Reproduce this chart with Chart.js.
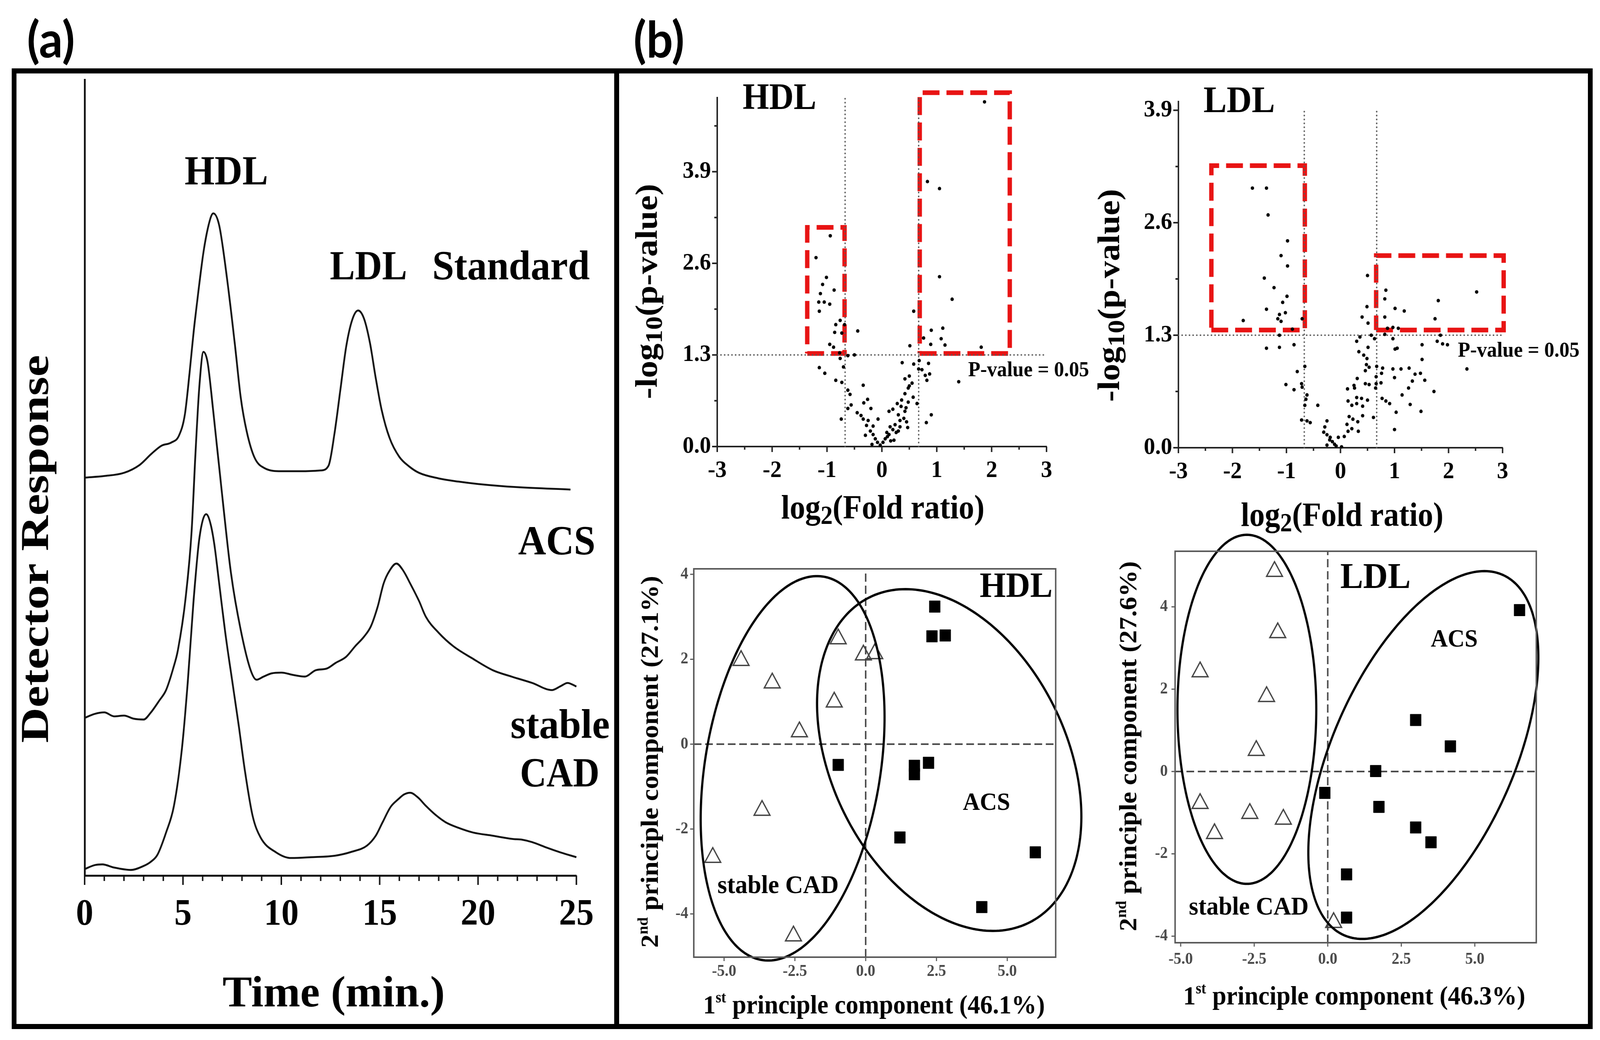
<!DOCTYPE html>
<html>
<head>
<meta charset="utf-8">
<script src="https://cdn.jsdelivr.net/npm/chart.js@4.4.0/dist/chart.umd.min.js"></script>
<style>
	html, body { margin: 0; padding: 0; background: #fff; overflow: hidden; }
	#wrap { position: relative; width: 4368px; height: 2662px; overflow: hidden; background: #fff; }
	#stage { position: absolute; left: 0; top: 0; width: 4368px; height: 2662px; transform-origin: 0 0; background: #fff; }
	.frame { position: absolute; border: 13px solid #000; box-sizing: border-box; }
	.tag { position: absolute; transform: translate(-50%, -50%); font-family: Lato, "Open Sans", sans-serif; font-weight: 700; font-size: 128px; line-height: 1; }
	canvas { position: absolute; }
</style>
</head>
<body>
<div id="wrap">
<div id="stage">
	<div class="frame" style="left:32px;top:175px;width:1658px;height:2459px"></div>
	<div class="frame" style="left:1677px;top:175px;width:2671px;height:2459px"></div>
	<div class="tag" style="left:139px;top:98px">(a)</div>
	<div class="tag" style="left:1799px;top:98px">(b)</div>
</div>
</div>
<script>
/* ===== panel (a): chromatograms (time in min, response in % of axis height) ===== */
const timeStd = [0, 1.0, 2.0, 2.8, 3.4, 3.9, 4.4, 4.8, 5.1, 5.34, 5.55, 5.74, 6.04, 6.34, 6.54, 6.84, 7.24, 7.64, 7.94, 8.24, 8.64, 9.14, 10, 11, 12, 12.4, 12.7, 13.0, 13.3, 13.6, 13.9, 14.2, 14.5, 14.8, 15.1, 15.5, 16.0, 16.5, 17.0, 18.0, 19.0, 20.0, 22.0, 24.7];
const respStd = [50.0, 50.2, 50.6, 51.6, 53.0, 54.0, 54.4, 55.3, 58.0, 63.3, 68.5, 72.5, 78.3, 82.1, 83.2, 81.7, 75.0, 66.7, 60.0, 55.8, 52.5, 51.2, 50.8, 50.8, 50.9, 51.5, 55.5, 61.0, 66.5, 69.8, 71.0, 70.0, 67.0, 62.5, 58.5, 55.0, 52.6, 51.4, 50.6, 49.9, 49.5, 49.2, 48.8, 48.5];

const timeAcs = [0, 0.5, 1.0, 1.5, 2.0, 2.5, 3.0, 3.34, 3.8, 4.14, 4.5, 4.74, 5.14, 5.44, 5.64, 5.84, 6.04, 6.25, 6.54, 6.94, 7.44, 7.94, 8.44, 8.74, 9.1, 9.5, 10.0, 10.6, 11.2, 11.75, 12.3, 12.75, 13.3, 13.75, 14.2, 14.55, 14.9, 15.2, 15.5, 15.85, 16.2, 16.55, 17.0, 17.35, 18.0, 18.75, 19.7, 20.75, 21.7, 22.75, 23.75, 24.2, 24.55, 25];
const respAcs = [19.8, 20.3, 20.5, 20.0, 20.1, 19.7, 19.6, 20.4, 22.0, 23.3, 26.0, 28.3, 35.0, 43.3, 53.3, 61.7, 65.8, 64.5, 58.3, 49.0, 38.0, 30.8, 25.8, 24.6, 25.0, 25.4, 25.5, 25.2, 25.0, 25.8, 26.0, 26.7, 27.5, 28.8, 30.0, 31.3, 33.8, 36.7, 38.3, 39.2, 38.3, 36.7, 34.5, 32.5, 30.5, 28.8, 27.3, 25.8, 25.0, 24.2, 23.3, 23.8, 24.2, 23.75];

const timeCad = [0, 0.5, 0.9, 1.5, 2.35, 3.0, 3.35, 3.7, 4.14, 4.54, 4.94, 5.24, 5.54, 5.84, 6.18, 6.4, 6.6, 6.85, 7.15, 7.5, 7.84, 8.14, 8.54, 8.94, 9.74, 10.5, 11.5, 12.75, 13.6, 14.35, 14.8, 15.15, 15.55, 15.95, 16.25, 16.55, 16.95, 17.35, 17.85, 18.35, 19.0, 19.75, 20.75, 21.75, 22.25, 22.75, 23.5, 24.2, 25];
const respCad = [0.8, 1.3, 1.4, 1.0, 0.7, 1.2, 1.7, 2.6, 5.4, 8.75, 15.8, 24.2, 34.6, 42.5, 45.4, 44.2, 41.5, 36.5, 30.5, 24.5, 18.75, 13.3, 7.5, 4.8, 2.9, 2.2, 2.3, 2.5, 3.0, 3.75, 5.0, 6.7, 8.6, 9.6, 10.2, 10.4, 9.8, 8.75, 7.6, 6.7, 6.0, 5.4, 5.0, 4.6, 4.5, 4.2, 3.5, 2.9, 2.3];

const timeTicks = [0, 5, 10, 15, 20, 25];
const timeMinor = [1, 2, 3, 4, 6, 7, 8, 9, 11, 12, 13, 14, 16, 17, 18, 19, 21, 22, 23, 24];

/* ===== panel (b) top: volcano plots [log2 fold ratio, -log10 p] ===== */
const hdlPoints = [
	[1.87, 4.89], [0.83, 3.76], [1.05, 3.66], [1.05, 2.41], [1.28, 2.09], [0.58, 1.92], [0.90, 1.65], [1.11, 1.68],
	[0.76, 1.54], [1.08, 1.53], [0.89, 1.45], [1.15, 1.44], [1.81, 1.41], [0.51, 1.43],
	[-0.94, 2.99], [-1.20, 2.68], [-1.01, 2.40], [-1.08, 2.30], [-0.87, 2.22], [-1.12, 2.17], [-1.15, 2.05], [-1.05, 2.05],
	[-0.95, 2.02], [-1.14, 1.92], [-0.76, 1.79], [-0.84, 1.73], [-0.68, 1.73], [-0.86, 1.62], [-0.73, 1.61], [-0.44, 1.64],
	[-0.95, 1.45], [-0.88, 1.41], [-0.77, 1.33], [-0.76, 1.25], [-0.62, 1.29], [-0.50, 1.30],
	[-1.14, 1.12], [-1.04, 1.04], [-0.84, 0.94], [-0.73, 0.91], [-0.70, 1.13], [-0.62, 0.80], [-0.58, 0.74], [-0.62, 0.54],
	[-0.56, 0.59], [-0.74, 0.39], [-0.34, 0.87], [-0.26, 0.67], [-0.33, 0.62], [-0.20, 0.54], [-0.45, 0.48], [-0.38, 0.44],
	[-0.34, 0.39], [-0.25, 0.37], [-0.07, 0.39], [-0.16, 0.29], [-0.30, 0.16], [-0.16, 0.17], [-0.12, 0.11], [-0.18, 0.03],
	[-0.03, 0.02], [-0.08, 0.06], [-0.21, 0.22], [-0.28, 0.30],
	[0.02, 0.06], [0.06, 0.11], [0.13, 0.17], [0.22, 0.09], [0.15, 0.28], [0.24, 0.31], [0.33, 0.37], [0.40, 0.40],
	[0.20, 0.24], [0.13, 0.50], [0.20, 0.53], [0.28, 0.61], [0.35, 0.57], [0.42, 0.50], [0.47, 0.27], [0.45, 0.35],
	[0.48, 0.63], [0.42, 0.75], [0.48, 0.83], [0.42, 0.96], [0.50, 1.00], [0.55, 0.90], [0.57, 0.70], [0.64, 0.61],
	[0.50, 0.86], [0.37, 1.19], [0.58, 1.17], [0.67, 1.10], [0.85, 1.18], [0.87, 1.03], [0.82, 0.94], [0.90, 0.45],
	[0.81, 0.34], [0.73, 1.09], [0.79, 1.01], [1.40, 0.92], [0.68, 1.22], [0.10, 0.14], [0.30, 0.45], [0.09, 0.20],
	[0.26, 0.20], [0.33, 0.28], [0.36, 0.66], [0.44, 0.55], [0.16, 0.08], [0.30, 0.22]
];
const ldlPoints = [
	[-1.63, 3.00], [-1.37, 3.00], [-1.34, 2.69], [-0.98, 2.39], [-1.10, 2.22], [-0.98, 2.10], [-1.41, 1.96], [-1.23, 1.85],
	[-0.99, 1.75], [-1.07, 1.68], [-1.37, 1.60], [-1.02, 1.56], [-1.13, 1.54], [-1.16, 1.49], [-1.80, 1.47], [-0.71, 1.49],
	[-1.10, 1.46], [-0.89, 1.37], [-1.13, 1.30],
	[-1.37, 1.15], [-1.13, 1.16], [-0.86, 1.19], [-0.80, 0.88], [-1.01, 0.73], [-0.86, 0.67], [-0.66, 0.94], [-0.72, 0.74],
	[-0.71, 0.70], [-0.62, 0.61], [-0.64, 0.56], [-0.66, 0.49], [-0.42, 0.49], [-0.72, 0.32], [-0.56, 0.29], [-0.62, 0.31],
	[-0.25, 0.31], [-0.29, 0.24], [-0.31, 0.18], [-0.25, 0.15], [-0.19, 0.12], [-0.15, 0.07], [-0.11, 0.04], [-0.25, 0.03],
	[-0.04, 0.12], [0.02, 0.01], [-0.20, 0.09], [-0.08, 0.02],
	[0.07, 0.13], [0.14, 0.19], [0.12, 0.27], [0.16, 0.36], [0.23, 0.33], [0.32, 0.30], [0.33, 0.19], [0.21, 0.22],
	[0.14, 0.54], [0.21, 0.49], [0.30, 0.51], [0.39, 0.57], [0.41, 0.48], [0.41, 0.37], [0.50, 0.55], [0.30, 0.58],
	[0.13, 0.68], [0.26, 0.69], [0.31, 0.80], [0.25, 0.72], [0.46, 0.74], [0.53, 0.73], [0.46, 0.89], [0.53, 0.93],
	[0.48, 0.96], [0.34, 1.11], [0.43, 1.07], [0.49, 1.03], [0.51, 1.16], [0.30, 1.23], [0.36, 1.28], [0.57, 1.30],
	[0.51, 1.44], [0.63, 1.26], [0.67, 0.94], [0.78, 0.92], [0.76, 0.86], [0.66, 0.82], [0.66, 0.74], [0.75, 0.75],
	[0.65, 0.69], [0.77, 0.57], [0.84, 0.54], [0.91, 0.51], [0.61, 0.35], [0.97, 1.26], [1.01, 1.14], [1.05, 1.15],
	[0.97, 0.91], [1.00, 0.81], [1.12, 0.91], [1.27, 0.92], [1.38, 0.85], [1.48, 0.86], [1.33, 0.77], [1.56, 0.78],
	[1.26, 0.69], [1.14, 0.61], [1.29, 0.50], [1.49, 0.42], [1.03, 0.41], [1.00, 0.21], [1.73, 0.65], [1.51, 1.19],
	[1.51, 1.02], [1.79, 1.23], [1.89, 1.20], [1.98, 1.19], [0.87, 1.38], [1.07, 1.38], [1.85, 1.30], [0.82, 1.31],
	[0.40, 1.51], [0.49, 1.63], [0.50, 1.99], [0.84, 1.82], [0.82, 1.72], [1.01, 1.61], [1.18, 1.58], [0.82, 1.51],
	[0.97, 1.39], [1.75, 1.49], [1.81, 1.70], [2.52, 1.80], [2.34, 0.91]
];
const foldTicks = [-3, -2, -1, 0, 1, 2, 3];
const foldMinor = [-2.5, -1.5, -0.5, 0.5, 1.5, 2.5];
const logPTicks = [0, 1.3, 2.6, 3.9];
const hdlLogPMinor = [0.65, 1.95, 3.25, 4.55];
const ldlLogPMinor = [0.65, 1.95, 3.25];
const foldCut = 0.67;
const pCut = 1.3;
// highlighted regions [x1, x2, y1, y2]
const hdlBoxes = [[-1.36, -0.68, 1.32, 3.11], [0.69, 2.33, 1.32, 5.02]];
const ldlBoxes = [[-2.39, -0.66, 1.36, 3.26], [0.66, 3.02, 1.36, 2.22]];

/* ===== panel (b) bottom: PCA scores ===== */
const hdlPcaCad = [[-4.40, 1.97], [-3.30, 1.44], [-0.97, 2.48], [-0.08, 2.10], [0.32, 2.13], [-1.11, 0.99], [-2.34, 0.29], [-3.66, -1.56], [-5.40, -2.67], [-2.55, -4.52]];
const hdlPcaAcs = [[2.44, 3.24], [2.34, 2.54], [2.81, 2.56], [-0.97, -0.49], [1.72, -0.51], [1.72, -0.71], [2.22, -0.44], [1.21, -2.20], [5.99, -2.55], [4.10, -3.84]];
const ldlPcaCad = [[-1.81, 4.86], [-1.70, 3.37], [-4.34, 2.42], [-2.08, 1.82], [-2.43, 0.51], [-4.34, -0.78], [-3.85, -1.51], [-2.65, -1.02], [-1.51, -1.16], [0.20, -3.67]];
const ldlPcaAcs = [[6.52, 3.92], [2.99, 1.25], [4.17, 0.61], [1.63, 0.01], [-0.10, -0.52], [1.74, -0.86], [2.99, -1.36], [3.51, -1.72], [0.64, -2.50], [0.64, -3.55]];
const pcaXTicks = [-5, -2.5, 0, 2.5, 5];
const pcaYTicks = [-4, -2, 0, 2, 4];
// group ellipses: centre, two conjugate semi-axes (data units)
const hdlEllipses = [{c: [-2.58, -0.57], u: [1.14, 4.51], v: [3.04, -0.41]}, {c: [2.95, -0.375], u: [3.11, -3.72], v: [-3.48, -1.54]}];
const ldlEllipses = [{c: [-2.75, 1.51], u: [0, 4.24], v: [2.36, 0]}, {c: [3.25, 0.40], u: [2.72, 4.37], v: [2.81, -0.93]}];

/* ================================================================ */
const SERIF = "'Liberation Serif', 'Times New Roman', serif";
const RED = "rgb(232, 20, 20)";
const stage = document.getElementById("stage");

// the browser may not give the full 4368 x 2662 viewport: stretch the figure to fill what it gives
(function () {
	let sx = window.innerWidth / 4368, sy = window.innerHeight / 2662;
	if (!(sx > 0) || Math.abs(sx - 1) < 0.002) sx = 1;
	if (!(sy > 0) || Math.abs(sy - 1) < 0.002) sy = 1;
	const wrap = document.getElementById("wrap");
	wrap.style.width = (4368 * sx) + "px";
	wrap.style.height = (2662 * sy) + "px";
	if (sx !== 1 || sy !== 1) stage.style.transform = "scale(" + sx + "," + sy + ")";
})();

const toXY = (xs, ys) => xs.map((x, i) => ({x: x, y: ys[i]}));
const pairs = (arr) => arr.map(p => ({x: p[0], y: p[1]}));

function addCanvas(box) {
	const c = document.createElement("canvas");
	Object.assign(c.style, {left: box.x + "px", top: box.y + "px", width: box.w + "px", height: box.h + "px"});
	stage.appendChild(c);
	return c;
}

function axis(o) {
	return {
		type: "linear",
		position: o.position,
		min: o.min,
		max: o.max,
		grid: {display: false, drawTicks: false},
		border: {display: !!o.border, color: o.border ? o.border[0] : "#000", width: o.border ? o.border[1] : 0},
		ticks: {
			display: !!o.ticks,
			padding: o.pad || 0,
			color: o.color || "#000",
			autoSkip: false,
			maxRotation: 0,
			font: {family: SERIF, weight: "bold", size: o.fontSize || 40, lineHeight: 1},
			callback: o.fmt || ((v) => String(v))
		},
		afterBuildTicks: (s) => { s.ticks = (o.ticks || []).map(v => ({value: v})); },
		afterFit: (s) => { if (o.position === "left") s.width = o.size; else s.height = o.size; }
	};
}

function textLayer(box, items) {
	return {
		id: "textLayer",
		afterDraw(chart) {
			const ctx = chart.ctx;
			items.forEach(it => {
				const parts = Array.isArray(it.text) ? it.text : [{t: it.text}];
				const fontFor = p => "bold " + Math.round(it.size * (p.sub ? 0.78 : p.sup ? 0.58 : 1)) + "px " + SERIF;
				ctx.save();
				ctx.translate(it.x - box.x, it.y - box.y);
				if (it.rot) ctx.rotate(it.rot * Math.PI / 180);
				let total = 0;
				const widths = parts.map(p => {
					ctx.font = fontFor(p);
					const w = ctx.measureText(p.t).width;
					total += w;
					return w;
				});
				if (it.w) ctx.scale(it.w / total, 1);
				ctx.fillStyle = it.color || "#000";
				ctx.textBaseline = "middle";
				ctx.textAlign = "left";
				let cx = -total / 2;
				parts.forEach((p, i) => {
					ctx.font = fontFor(p);
					const dy = p.sub ? it.size * 0.22 : (p.sup ? -it.size * 0.3 : 0);
					ctx.fillText(p.t, cx, dy);
					cx += widths[i];
				});
				ctx.restore();
			});
		}
	};
}

// outward tick marks: spec.x / spec.y = [[values, length], ...]
function tickMarks(spec) {
	return {
		id: "tickMarks",
		afterDraw(chart) {
			const {ctx, chartArea: a, scales: {x, y}} = chart;
			ctx.save();
			ctx.strokeStyle = spec.color;
			ctx.lineWidth = spec.width;
			ctx.beginPath();
			(spec.x || []).forEach(([vals, len]) => vals.forEach(v => {
				const px = x.getPixelForValue(v);
				ctx.moveTo(px, a.bottom);
				ctx.lineTo(px, a.bottom + len);
			}));
			(spec.y || []).forEach(([vals, len]) => vals.forEach(v => {
				const py = y.getPixelForValue(v);
				ctx.moveTo(a.left, py);
				ctx.lineTo(a.left - len, py);
			}));
			ctx.stroke();
			ctx.restore();
		}
	};
}

const frame = {
	id: "frame",
	afterDraw(chart) {
		const {ctx, chartArea: a} = chart;
		ctx.save();
		ctx.strokeStyle = "#5a5a5a";
		ctx.lineWidth = 4;
		ctx.strokeRect(a.left, a.top, a.right - a.left, a.bottom - a.top);
		ctx.restore();
	}
};

function ellipseLayer(list) {
	return {
		id: "ellipses",
		afterDatasetsDraw(chart) {
			const {ctx, scales: {x, y}} = chart;
			ctx.save();
			ctx.strokeStyle = "#000";
			ctx.lineWidth = 6;
			list.forEach(e => {
				const cx = x.getPixelForValue(e.c[0]), cy = y.getPixelForValue(e.c[1]);
				const ux = x.getPixelForValue(e.c[0] + e.u[0]) - cx, uy = y.getPixelForValue(e.c[1] + e.u[1]) - cy;
				const vx = x.getPixelForValue(e.c[0] + e.v[0]) - cx, vy = y.getPixelForValue(e.c[1] + e.v[1]) - cy;
				ctx.beginPath();
				for (let i = 0; i <= 240; i++) {
					const t = i / 240 * Math.PI * 2;
					const px = cx + Math.cos(t) * ux + Math.sin(t) * vx;
					const py = cy + Math.cos(t) * uy + Math.sin(t) * vy;
					if (i === 0) ctx.moveTo(px, py); else ctx.lineTo(px, py);
				}
				ctx.closePath();
				ctx.stroke();
			});
			ctx.restore();
		}
	};
}

function makeChart(box, area, datasets, xAxis, yAxis, plugins) {
	xAxis.size = box.y + box.h - area.bottom;
	yAxis.size = area.left - box.x;
	xAxis.position = "bottom";
	yAxis.position = "left";
	return new Chart(addCanvas(box), {
		type: "scatter",
		data: {datasets: datasets},
		options: {
			responsive: false,
			maintainAspectRatio: false,
			animation: false,
			events: [],
			layout: {padding: {left: 0, bottom: 0, top: area.top - box.y, right: box.x + box.w - area.right}},
			plugins: {legend: {display: false}, tooltip: {enabled: false}},
			scales: {x: axis(xAxis), y: axis(yAxis)}
		},
		plugins: plugins
	});
}

const line = (data, color, width, dash, cap) => ({
	data: data, showLine: true, pointRadius: 0, borderColor: color, borderWidth: width,
	borderDash: dash || [], borderCapStyle: cap || "butt", borderJoinStyle: "miter", clip: false
});
const rect = (b) => [{x: b[0], y: b[2]}, {x: b[1], y: b[2]}, {x: b[1], y: b[3]}, {x: b[0], y: b[3]}, {x: b[0], y: b[2]}];
const dots = (data) => ({data: data, pointRadius: 4.6, pointBackgroundColor: "#000", pointBorderWidth: 0, clip: false});

/* ---------- (a) chromatograms ---------- */
(function () {
	const box = {x: 45, y: 190, w: 1630, h: 2425};
	const area = {left: 231, top: 204, right: 1585, bottom: 2241};
	const trace = (xs, ys) => Object.assign(line(toXY(xs, ys), "#111", 4.8), {cubicInterpolationMode: "monotone"});
	makeChart(box, area,
		[trace(timeStd, respStd), trace(timeAcs, respAcs), trace(timeCad, respCad)],
		{min: 0, max: 25, ticks: timeTicks, fontSize: 95, pad: 54, border: ["#111", 5]},
		{min: 0, max: 100, border: ["#111", 5]},
		[
			tickMarks({color: "#111", width: 4, x: [[timeTicks, 24], [timeMinor, 14]]}),
			textLayer(box, [
				{text: "HDL", x: 618, y: 445, size: 105, w: 228},
				{text: "LDL", x: 1006, y: 688, size: 105, w: 211},
				{text: "Standard", x: 1395, y: 688, size: 105, w: 430},
				{text: "ACS", x: 1520, y: 1392, size: 105, w: 211},
				{text: "stable", x: 1529, y: 1862, size: 105, w: 271},
				{text: "CAD", x: 1528, y: 1986, size: 105, w: 217},
				{text: "Time (min.)", x: 911, y: 2547, size: 112, w: 607},
				{text: "Detector Response", x: 103, y: 1405, size: 108, w: 993, rot: -90}
			])
		]);
})();

/* ---------- (b) volcano plots ---------- */
function volcano(box, area, points, boxes, yMax, vTop, minorY, texts) {
	const dotted = (d) => line(d, "#5a5a5a", 4, [0.5, 9.5], "round");
	makeChart(box, area,
		[
			dots(pairs(points)),
			dotted([{x: -3, y: pCut}, {x: 3, y: pCut}]),
			dotted([{x: -foldCut, y: 0}, {x: -foldCut, y: vTop}]),
			dotted([{x: foldCut, y: 0}, {x: foldCut, y: vTop}]),
			line(rect(boxes[0]), RED, 12, [46, 19]),
			line(rect(boxes[1]), RED, 12, [46, 19])
		],
		{min: -3, max: 3, ticks: foldTicks, fontSize: 62, pad: 31, border: ["#222", 4]},
		{min: 0, max: yMax, ticks: logPTicks, fontSize: 62, pad: 17, border: ["#222", 4], fmt: (v) => v.toFixed(1)},
		[
			tickMarks({color: "#222", width: 4, x: [[foldTicks, 14], [foldMinor, 8]], y: [[logPTicks, 14], [minorY, 8]]}),
			textLayer(box, texts)
		]);
}

volcano({x: 1700, y: 200, w: 1290, h: 1190}, {left: 1958, top: 250, right: 2857, bottom: 1143},
	hdlPoints, hdlBoxes, 4.95, 4.95, hdlLogPMinor, [
		{text: "HDL", x: 2128, y: 254, size: 96, w: 201},
		{text: "P-value = 0.05", x: 2808, y: 949, size: 55, w: 330},
		{text: [{t: "-log"}, {t: "10", sub: true}, {t: "(p-value)"}], x: 1771, y: 746, size: 84, w: 551, rot: -90},
		{text: [{t: "log"}, {t: "2", sub: true}, {t: "(Fold ratio)"}], x: 2410, y: 1305, size: 86, w: 555}
	]);

volcano({x: 2990, y: 200, w: 1340, h: 1190}, {left: 3217, top: 260, right: 4102, bottom: 1146},
	ldlPoints, ldlBoxes, 4.0, 3.9, ldlLogPMinor, [
		{text: "LDL", x: 3383, y: 262, size: 96, w: 195},
		{text: "P-value = 0.05", x: 4146, y: 899, size: 55, w: 332},
		{text: [{t: "-log"}, {t: "10", sub: true}, {t: "(p-value)"}], x: 3033, y: 756, size: 84, w: 545, rot: -90},
		{text: [{t: "log"}, {t: "2", sub: true}, {t: "(Fold ratio)"}], x: 3664, y: 1324, size: 86, w: 553}
	]);

/* ---------- (b) PCA score plots ---------- */
function pca(box, area, xr, yr, cad, acs, ellipses, xPad, yPad, texts) {
	const dashed = (d) => line(d, "#444", 4, [21, 10]);
	makeChart(box, area,
		[
			{data: pairs(acs), pointStyle: "rect", pointRadius: 21, pointBackgroundColor: "#000", pointBorderColor: "#000", pointBorderWidth: 1, clip: false},
			{data: pairs(cad), pointStyle: "triangle", pointRadius: 25, pointBackgroundColor: "rgba(255,255,255,0)", pointBorderColor: "#444", pointBorderWidth: 3.5, clip: false},
			dashed([{x: 0, y: yr[0]}, {x: 0, y: yr[1]}]),
			dashed([{x: xr[0], y: 0}, {x: xr[1], y: 0}])
		],
		{min: xr[0], max: xr[1], ticks: pcaXTicks, fontSize: 42, pad: xPad, color: "#4a4a4a", fmt: (v) => v.toFixed(1)},
		{min: yr[0], max: yr[1], ticks: pcaYTicks, fontSize: 42, pad: yPad, color: "#4a4a4a"},
		[
			frame,
			tickMarks({color: "#5a5a5a", width: 3, x: [[pcaXTicks, 10]], y: [[pcaYTicks, 10]]}),
			ellipseLayer(ellipses),
			textLayer(box, texts)
		]);
}

pca({x: 1700, y: 1390, w: 1270, h: 1240}, {left: 1894, top: 1456, right: 2882, bottom: 2450},
	[-6.07, 6.71], [-5.02, 4.13], hdlPcaCad, hdlPcaAcs, hdlEllipses, 16, 15, [
		{text: "HDL", x: 2774, y: 1504, size: 92, w: 199},
		{text: "ACS", x: 2693, y: 2056, size: 64, w: 129},
		{text: "stable CAD", x: 2124, y: 2269, size: 66, w: 331},
		{text: [{t: "2"}, {t: "nd", sup: true}, {t: " principle component (27.1%)"}], x: 1778, y: 1950, size: 68, w: 952, rot: -90},
		{text: [{t: "1"}, {t: "st", sup: true}, {t: " principle component (46.1%)"}], x: 2386, y: 2576, size: 68, w: 933}
	]);

pca({x: 2990, y: 1340, w: 1330, h: 1290}, {left: 3208, top: 1411, right: 4194, bottom: 2413},
	[-5.19, 7.09], [-4.16, 5.35], ldlPcaCad, ldlPcaAcs, ldlEllipses, 22, 20, [
		{text: "LDL", x: 3755, y: 1481, size: 93, w: 192},
		{text: "ACS", x: 3970, y: 1638, size: 64, w: 128},
		{text: "stable CAD", x: 3409, y: 2324, size: 66, w: 327},
		{text: [{t: "2"}, {t: "nd", sup: true}, {t: " principle component (27.6%)"}], x: 3084, y: 1910, size: 68, w: 947, rot: -90},
		{text: [{t: "1"}, {t: "st", sup: true}, {t: " principle component (46.3%)"}], x: 3697, y: 2553, size: 68, w: 934}
	]);
</script>
</body>
</html>
